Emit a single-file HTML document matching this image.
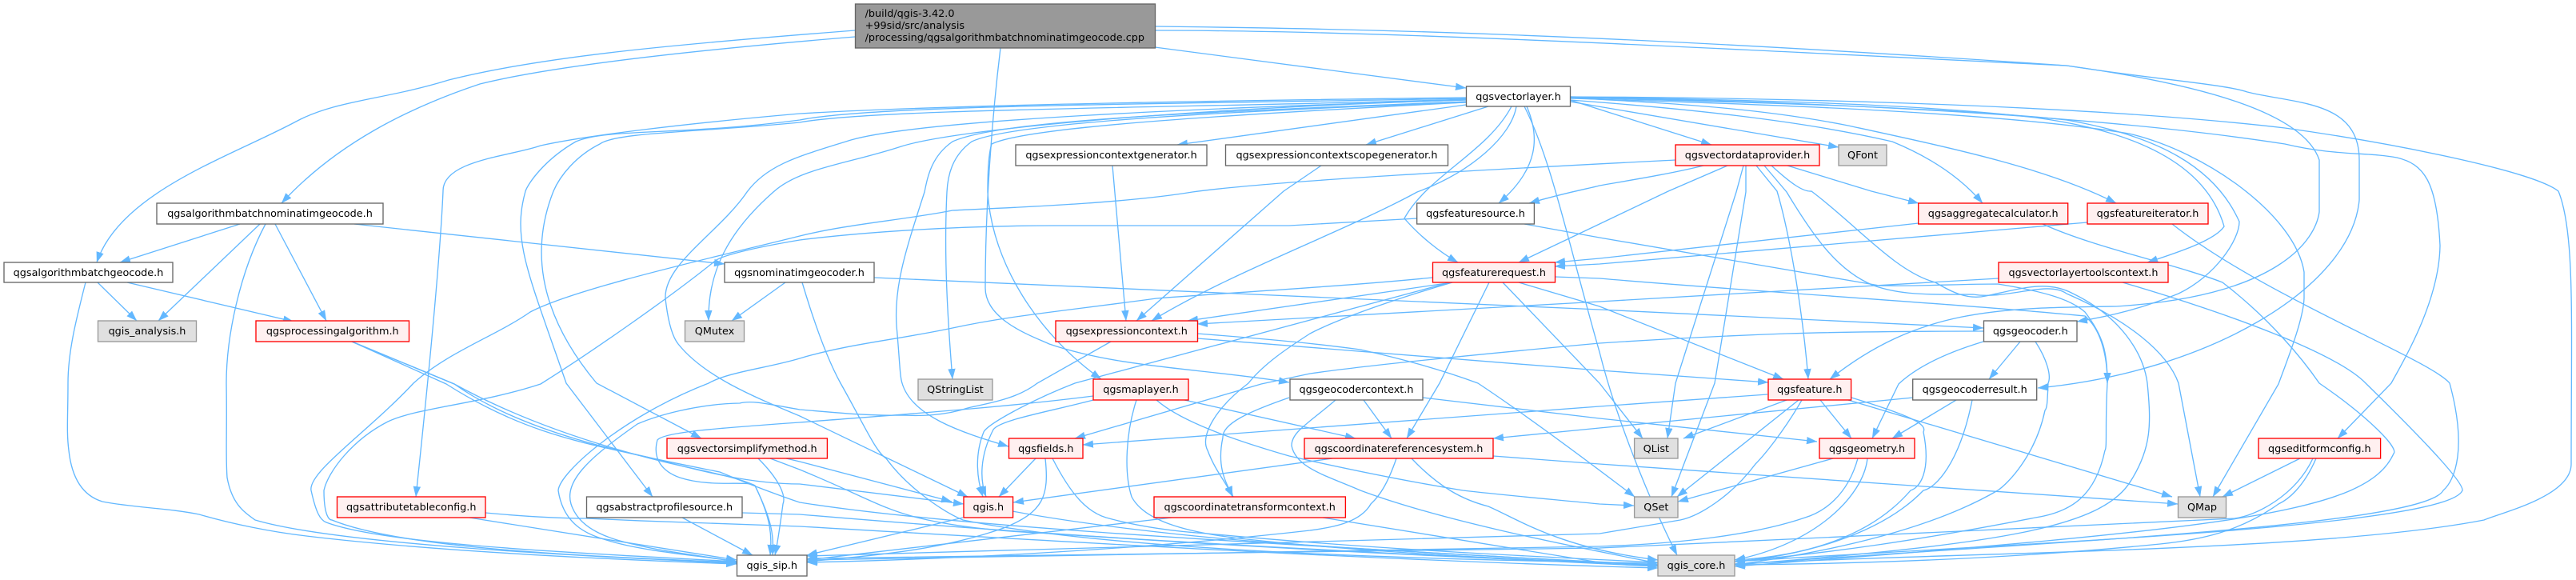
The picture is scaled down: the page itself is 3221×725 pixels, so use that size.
<!DOCTYPE html>
<html><head><meta charset="utf-8"><style>
html,body{margin:0;padding:0;background:#fff}
svg{display:block}
text{font-family:"DejaVu Sans","Liberation Sans",sans-serif;font-size:12.8px;fill:#000;text-anchor:middle}
.w rect{fill:#fff;stroke:#666}
.r rect{fill:#fff0f0;stroke:#f00}
.g rect{fill:#e0e0e0;stroke:#999}
rect{stroke-width:1.33}
</style></head><body>
<svg width="3221" height="725" viewBox="0 0 3221 725" xmlns="http://www.w3.org/2000/svg">
<defs><marker id="a" markerUnits="userSpaceOnUse" markerWidth="14" markerHeight="10" refX="13" refY="5" orient="auto"><path d="M0 .3L13.3 5L0 9.7z" fill="#63b8ff"/></marker></defs>
<g fill="none" stroke="#63b8ff" stroke-width="1.33" marker-end="url(#a)">
<path d="M1069 38C850 55 680 70 561 100C480 125 420 125 370 152C290 195 150 240 121 328"/>
<path d="M1069 46C900 60 700 80 600 105C510 135 420 180 352 254"/>
<path d="M1251 60C1240 150 1232 260 1232 360C1232 400 1290 420 1312 430C1400 460 1500 460 1612 478"/>
<path d="M1444 59L1833 110"/>
<path d="M1444 33C1700 36 2000 42 2584 82C2750 105 2880 140 2900 200L2900 265C2895 300 2850 370 2646 383C2500 385 2400 385 2288 474"/>
<path d="M1444 38C1700 38 2000 53 2584 82C2700 100 2780 105 2810 115C2870 130 2950 125 2950 200L2950 250C2940 360 2760 465 2548 485"/>
<path d="M1833 122C1600 125 1200 130 1000 142C850 155 730 170 676 182C640 195 553 200 554 239C550 330 535 480 520 621"/>
<path d="M1833 123C1500 130 1100 130 1000 150C850 170 760 160 720 177C680 200 660 230 657 239C640 300 660 340 708 479L816 621"/>
<path d="M1833 124C1500 135 1100 135 1000 153C880 165 770 165 750 180C720 195 700 220 692 239C660 320 680 400 746 479L877 548"/>
<path d="M1833 125C1500 135 1150 150 1064 175C1000 195 960 205 934 240C900 290 830 330 832 373C835 400 840 420 848 430C880 470 940 495 1000 520L1210 621"/>
<path d="M1833 125C1500 135 1200 160 1127 183C1060 205 1000 210 967 240C910 290 885 340 886 401"/>
<path d="M1833 127C1500 140 1250 150 1191 177C1165 195 1160 220 1156 240C1130 320 1118 360 1121 407C1125 450 1125 470 1128 479C1140 520 1200 540 1261 558"/>
<path d="M1833 128C1500 140 1260 155 1215 177C1190 195 1185 220 1184 240C1180 320 1185 400 1191 474"/>
<path d="M1833 128C1500 145 1280 160 1240 180C1235 195 1235 230 1235 240C1240 330 1300 420 1377 474"/>
<path d="M1833 131L1472 181"/>
<path d="M1861 133L1708 181"/>
<path d="M1896 133C1890 170 1840 215 1772 240C1680 290 1540 340 1440 401"/>
<path d="M1890 133C1860 190 1785 220 1756 273C1775 295 1800 315 1823 328"/>
<path d="M1909 133C1925 170 1925 210 1874 254"/>
<path d="M1906 133C1940 200 1960 300 2000 440C2020 520 2060 620 2097 694"/>
<path d="M1963 125L2140 181"/>
<path d="M1963 127L2299 184"/>
<path d="M1963 122C2100 130 2200 135 2311 157C2440 185 2560 210 2646 254"/>
<path d="M1963 125C2100 135 2250 150 2366 177C2410 195 2450 220 2479 254"/>
<path d="M1963 121C2200 125 2400 130 2545 147C2680 165 2760 210 2781 283C2770 300 2725 315 2685 328"/>
<path d="M1963 122C2200 128 2450 135 2584 150C2700 170 2770 210 2800 277C2800 300 2770 345 2724 367C2680 385 2640 395 2597 402"/>
<path d="M1963 123C2200 130 2500 140 2662 167C2760 190 2870 270 2881 340L2881 373C2880 400 2860 450 2849 480L2767 621"/>
<path d="M1963 122C2200 125 2600 140 2857 180C2920 195 2960 190 2997 197C3030 205 3047 225 3051 307C3050 380 3000 460 2990 479L2923 548"/>
<path d="M1963 121C2200 122 2600 130 2857 160C3000 180 3170 215 3199 239C3220 290 3215 400 3215 580C3215 620 3130 640 3106 650C2900 690 2450 690 2169 705"/>
<path d="M2095 200C1900 210 1600 225 1491 240C1400 255 1250 260 1191 263C1130 275 1060 280 1000 295C900 320 720 360 663 390C620 420 560 440 517 479C460 540 385 590 389 613C395 640 400 650 408 653C480 680 700 690 921 702"/>
<path d="M1772 273L1612 282C1500 282 1400 282 1319 282C1200 282 1080 290 1000 300C940 310 900 320 893 327C840 370 740 440 676 480C600 505 520 510 485 527C440 550 410 590 405 613C405 640 410 650 415 650C500 685 720 695 921 703"/>
<path d="M1791 347C1680 358 1550 365 1446 373C1320 390 1260 395 1191 410C1120 425 1060 430 1000 448C960 460 910 465 886 479C780 520 700 590 698 613C705 660 740 670 765 677C810 690 880 695 921 702"/>
<path d="M1389 427L1297 479C1270 500 1230 505 1210 510C1180 520 1150 520 1128 519C1080 520 1040 515 1000 512C960 505 940 500 925 504C870 505 820 520 797 530C740 570 705 600 714 630C725 665 770 675 791 680C830 690 880 695 921 702"/>
<path d="M440 427L568 480C650 525 740 555 829 577C860 585 920 595 944 607C965 650 965 670 963 694"/>
<path d="M440 427L558 480C660 545 740 555 816 573C880 590 940 605 1000 605L1205 630"/>
<path d="M1446 500C1480 530 1560 555 1612 570C1700 590 1780 605 1829 613C1890 620 1950 625 2000 630L2043 632"/>
<path d="M440 427L568 480C660 545 800 570 900 590C960 615 1000 628 1000 628C1200 660 1600 680 2073 707"/>
<path d="M983 573L1000 577L1190 627"/>
<path d="M963 573L1000 587C1080 620 1100 635 1147 647C1200 660 1260 665 1319 667C1500 680 1800 695 2073 708"/>
<path d="M948 573C975 600 983 620 979 630C975 660 972 680 969 694"/>
<path d="M928 641L1000 643C1200 660 1600 690 2073 706"/>
<path d="M607 641C650 645 700 648 733 648C820 652 900 655 1000 658C1300 675 1700 700 2073 710"/>
<path d="M587 647L921 700"/>
<path d="M853 647L941 694"/>
<path d="M1204 647L1009 694"/>
<path d="M1266 639C1350 655 1480 670 1574 677C1750 690 1950 700 2073 706"/>
<path d="M1295 573L1249 621"/>
<path d="M1307 573C1312 620 1305 640 1255 660C1170 690 1080 695 1009 702"/>
<path d="M1316 573C1340 620 1360 640 1383 647C1430 660 1480 665 1510 667C1700 685 1900 695 2073 703"/>
<path d="M1367 500C1310 515 1250 525 1242 537C1225 570 1225 600 1233 621"/>
<path d="M1813 353L1344 479C1290 500 1235 530 1230 540C1218 570 1222 600 1229 621"/>
<path d="M1367 495C1250 510 1100 520 1000 528C900 535 830 540 822 550C815 575 830 590 850 597C890 610 935 600 944 607C965 650 968 670 966 694"/>
<path d="M1421 500C1408 540 1405 590 1415 621C1430 650 1480 665 1550 673C1700 690 1900 700 2073 706"/>
<path d="M1481 500L1695 548"/>
<path d="M2480 414C2380 414 2300 415 2234 417C2150 420 2060 425 2000 429C1880 440 1720 455 1638 467L1577 480L1344 548"/>
<path d="M2210 493L2000 508L1354 556"/>
<path d="M2392 497L2000 535L1867 548"/>
<path d="M1862 353L1800 479L1759 548"/>
<path d="M1705 500L1740 548"/>
<path d="M1612 497C1560 515 1528 530 1529 547C1522 580 1530 600 1542 621"/>
<path d="M1816 353C1740 375 1670 400 1638 417C1610 435 1580 455 1561 479C1520 510 1500 545 1510 563C1520 590 1535 605 1541 621"/>
<path d="M1670 500C1635 530 1615 540 1615 557C1620 585 1660 595 1701 613C1800 650 1950 680 2073 704"/>
<path d="M1779 497L2000 523L2272 552"/>
<path d="M1666 573L1267 628"/>
<path d="M1746 573C1735 605 1725 620 1714 630C1700 655 1660 660 1638 663C1400 690 1150 700 1009 703"/>
<path d="M1765 573C1800 610 1830 625 1861 633C1900 650 1950 685 2073 700"/>
<path d="M1867 570L2000 580L2723 630"/>
<path d="M1465 647L1009 700"/>
<path d="M1654 647L2000 703L2073 707"/>
<path d="M1391 207L1408 401"/>
<path d="M1652 207L1605 239L1421 401"/>
<path d="M1816 353L1485 401"/>
<path d="M1899 353L2000 383L2230 474"/>
<path d="M1093 347L2000 387L2480 410"/>
<path d="M1497 423L2000 463L2211 478"/>
<path d="M1497 417C1600 425 1650 430 1701 437C1760 450 1810 465 1848 479C1910 520 1990 580 2044 621"/>
<path d="M1944 346L2000 348C2200 365 2450 380 2607 395C2625 410 2635 440 2635 479"/>
<path d="M1879 353L2000 479L2054 548"/>
<path d="M2499 348L2000 377L1497 405"/>
<path d="M2130 207C2090 217 2040 225 2000 232C1990 235 1960 240 1912 254"/>
<path d="M2160 207L2086 239L2000 280L1899 328"/>
<path d="M2196 207L2222 239C2240 300 2255 400 2261 474"/>
<path d="M2180 207L2171 240L2095 479L2085 548"/>
<path d="M2183 207L2183 240L2144 479L2090 621"/>
<path d="M2206 207L2234 240C2270 300 2300 340 2343 357C2380 370 2420 368 2467 368C2510 375 2560 350 2584 367C2660 400 2710 440 2724 479L2751 621"/>
<path d="M2215 207C2240 230 2255 240 2265 239C2320 280 2370 340 2420 353C2440 365 2460 375 2483 370C2530 360 2560 350 2592 367C2650 395 2680 440 2685 479C2690 530 2690 560 2665 600C2630 660 2500 680 2169 706"/>
<path d="M2235 207L2340 239L2399 254"/>
<path d="M2399 279L2000 323L1944 328"/>
<path d="M2610 278L2000 330L1944 333"/>
<path d="M1906 280L2000 297L2350 357C2400 358 2450 355 2498 355C2560 365 2590 375 2607 390C2630 420 2635 440 2635 479C2632 530 2635 560 2632 563C2620 620 2590 640 2545 647C2400 675 2300 690 2169 702"/>
<path d="M2716 280C2830 370 3040 450 3063 479C3085 560 3070 600 3055 613C3030 660 2500 680 2169 706"/>
<path d="M2554 280C2620 310 2720 330 2779 353C2840 400 2880 450 2900 479C2960 520 3000 560 2993 567C2960 640 2800 660 2169 708"/>
<path d="M2654 353C2780 390 2920 440 2958 479C3010 530 3080 600 3079 613C3060 660 2500 680 2169 702"/>
<path d="M2876 573L2779 621"/>
<path d="M2892 573C2870 620 2820 645 2794 648L2000 685L1009 698"/>
<path d="M2896 573C2880 610 2860 625 2849 630C2800 665 2750 675 2701 680C2500 700 2300 705 2169 706"/>
<path d="M2335 573C2330 620 2270 680 2169 700"/>
<path d="M2323 573C2310 620 2280 640 2257 647C2190 670 2090 680 2000 683L1009 700"/>
<path d="M2292 573L2098 627"/>
<path d="M2276 500L2315 548"/>
<path d="M2446 500L2366 548"/>
<path d="M2480 427C2420 445 2390 465 2374 480L2341 548"/>
<path d="M2311 500L2716 621"/>
<path d="M2315 497C2390 520 2410 530 2405 540C2415 590 2400 610 2389 613C2340 670 2260 695 2169 700"/>
<path d="M2253 500C2230 540 2205 570 2195 580C2165 620 2125 645 2101 650L2000 667L1009 695"/>
<path d="M2249 500L2097 621"/>
<path d="M2466 500C2450 580 2420 610 2405 613C2350 670 2250 695 2169 702"/>
<path d="M2545 427C2560 450 2565 470 2561 479C2560 500 2560 510 2557 513C2545 570 2510 605 2498 613C2400 670 2250 695 2169 706"/>
<path d="M2526 427L2487 474"/>
<path d="M2234 500L2105 548"/>
<path d="M332 280C300 340 283 420 283 479C284 540 282 570 284 597C290 630 305 640 319 650C420 680 720 695 921 704"/>
<path d="M107 353C95 400 85 440 85 479C85 520 83 540 86 563C90 600 105 620 128 627C170 635 210 635 249 643C290 655 340 665 383 670C550 690 780 700 921 705"/>
<path d="M300 280L150 328"/>
<path d="M325 280L198 401"/>
<path d="M344 280L408 401"/>
<path d="M443 280L906 330"/>
<path d="M122 353L171 401"/>
<path d="M159 353L367 402"/>
<path d="M982 353L915 401"/>
<path d="M1003 353C1020 410 1035 450 1051 479C1080 530 1095 565 1108 573C1135 610 1180 640 1204 650C1400 690 1800 700 2073 704"/>
</g>
<g class="w"><rect x="196" y="254" width="283" height="26"/><text x="337.500" y="271">qgsalgorithmbatchnominatimgeocode.h</text></g>
<g class="w"><rect x="5" y="328" width="211" height="25"/><text x="110.500" y="345">qgsalgorithmbatchgeocode.h</text></g>
<g class="g"><rect x="122.500" y="401" width="123" height="26"/><text x="184" y="418">qgis_analysis.h</text></g>
<g class="r"><rect x="320" y="401" width="191.500" height="26"/><text x="415.750" y="418">qgsprocessingalgorithm.h</text></g>
<g class="g"><rect x="856.500" y="401" width="74" height="26"/><text x="893.500" y="418">QMutex</text></g>
<g class="w"><rect x="906" y="328" width="187" height="25"/><text x="999.500" y="345">qgsnominatimgeocoder.h</text></g>
<g class="r"><rect x="834" y="548" width="200.400" height="25"/><text x="934.200" y="565">qgsvectorsimplifymethod.h</text></g>
<g class="r"><rect x="421.500" y="621" width="185.500" height="26"/><text x="514.250" y="638">qgsattributetableconfig.h</text></g>
<g class="w"><rect x="733.500" y="621" width="194.500" height="26"/><text x="830.750" y="638">qgsabstractprofilesource.h</text></g>
<g class="w"><rect x="921.500" y="694" width="87.500" height="26"/><text x="965.250" y="711">qgis_sip.h</text></g>
<g><rect x="1069.500" y="5" width="375" height="55" fill="#999" stroke="#666"/>
<text x="1081.600" y="21" style="text-anchor:start">/build/qgis-3.42.0</text>
<text x="1081.600" y="36" style="text-anchor:start">+99sid/src/analysis</text>
<text x="1081.600" y="51" style="text-anchor:start">/processing/qgsalgorithmbatchnominatimgeocode.cpp</text></g>
<g class="w"><rect x="1833.500" y="108" width="130" height="25"/><text x="1898.500" y="125">qgsvectorlayer.h</text></g>
<g class="w"><rect x="1270" y="181" width="239" height="26"/><text x="1389.500" y="198">qgsexpressioncontextgenerator.h</text></g>
<g class="w"><rect x="1532.500" y="181" width="278" height="26"/><text x="1671.500" y="198">qgsexpressioncontextscopegenerator.h</text></g>
<g class="w"><rect x="1771.700" y="254" width="146.700" height="26"/><text x="1845" y="271">qgsfeaturesource.h</text></g>
<g class="r"><rect x="1791.500" y="328" width="153" height="25"/><text x="1868" y="345">qgsfeaturerequest.h</text></g>
<g class="r"><rect x="1320" y="401" width="177.500" height="26"/><text x="1408.750" y="418">qgsexpressioncontext.h</text></g>
<g class="g"><rect x="1148" y="474" width="93" height="26"/><text x="1194.500" y="491">QStringList</text></g>
<g class="r"><rect x="1367" y="474" width="119" height="26"/><text x="1426.500" y="491">qgsmaplayer.h</text></g>
<g class="w"><rect x="1613" y="474" width="166" height="26"/><text x="1696" y="491">qgsgeocodercontext.h</text></g>
<g class="r"><rect x="1261.500" y="548" width="92.500" height="25"/><text x="1307.750" y="565">qgsfields.h</text></g>
<g class="r"><rect x="1631" y="548" width="236" height="25"/><text x="1749" y="565">qgscoordinatereferencesystem.h</text></g>
<g class="r"><rect x="1205" y="621" width="61.600" height="26"/><text x="1235.800" y="638">qgis.h</text></g>
<g class="r"><rect x="1443" y="621" width="239.400" height="26"/><text x="1562.700" y="638">qgscoordinatetransformcontext.h</text></g>
<g class="r"><rect x="2095" y="181" width="180" height="26"/><text x="2185" y="198">qgsvectordataprovider.h</text></g>
<g class="g"><rect x="2299" y="181" width="60" height="26"/><text x="2329" y="198">QFont</text></g>
<g class="r"><rect x="2398.700" y="254" width="187" height="26"/><text x="2492.200" y="271">qgsaggregatecalculator.h</text></g>
<g class="r"><rect x="2610" y="254" width="151" height="26"/><text x="2685.500" y="271">qgsfeatureiterator.h</text></g>
<g class="r"><rect x="2499" y="328" width="212" height="25"/><text x="2605" y="345">qgsvectorlayertoolscontext.h</text></g>
<g class="w"><rect x="2480.500" y="401" width="116.500" height="26"/><text x="2538.750" y="418">qgsgeocoder.h</text></g>
<g class="r"><rect x="2211" y="474" width="103.600" height="26"/><text x="2262.800" y="491">qgsfeature.h</text></g>
<g class="w"><rect x="2391.700" y="474" width="155" height="26"/><text x="2469.200" y="491">qgsgeocoderresult.h</text></g>
<g class="g"><rect x="2043.600" y="548" width="54.400" height="25"/><text x="2070.800" y="565">QList</text></g>
<g class="r"><rect x="2275" y="548" width="119" height="25"/><text x="2334.500" y="565">qgsgeometry.h</text></g>
<g class="r"><rect x="2824" y="548" width="152.600" height="25"/><text x="2900.300" y="565">qgseditformconfig.h</text></g>
<g class="g"><rect x="2043.600" y="621" width="54.400" height="26"/><text x="2070.800" y="638">QSet</text></g>
<g class="g"><rect x="2723.500" y="621" width="60" height="26"/><text x="2753.500" y="638">QMap</text></g>
<g class="g"><rect x="2073" y="694" width="96" height="26"/><text x="2121" y="711">qgis_core.h</text></g>
</svg>
</body></html>
